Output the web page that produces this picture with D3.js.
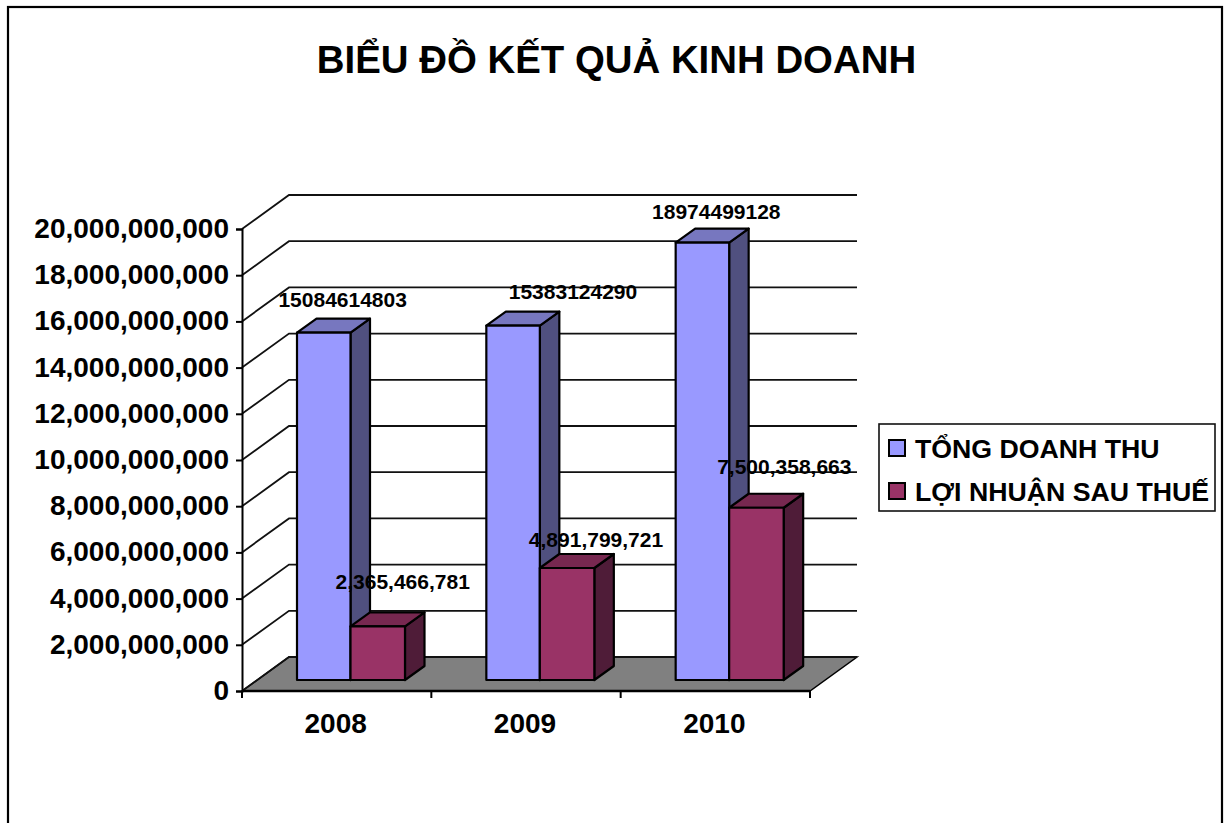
<!DOCTYPE html>
<html><head><meta charset="utf-8">
<script src="https://cdn.jsdelivr.net/npm/d3@7/dist/d3.min.js"></script>
<style>html,body{margin:0;padding:0;background:#fff}svg{display:block}
text{font-family:"Liberation Sans",Arial,sans-serif;font-weight:bold;fill:#000}</style>
</head><body><svg id="c" width="1224" height="823"></svg>
<script>
const categories = ["2008","2009","2010"];
const tongDoanhThu = [15084614803,15383124290,18974499128];
const loiNhuan = [2365466781,4891799721,7500358663];
const seriesNames = ["TỔNG DOANH THU","LỢI NHUẬN SAU THUẾ"];
const yTicks = [0,2e9,4e9,6e9,8e9,10e9,12e9,14e9,16e9,18e9,20e9];
const titleText = "BIỂU ĐỒ KẾT QUẢ KINH DOANH";
const colors = [{front:"#9999ff",top:"#7777bf",side:"#50507f"},{front:"#993366",top:"#772850",side:"#4f1c38"}];
const labelOffsets = [[[6,25],[6,36]],[[47,26],[10,20]],[[1,23],[9,33]]];

const svg = d3.select("#c");
const y = d3.scaleLinear().domain([0,20e9]).range([691,229]);
const x = d3.scaleBand().domain(categories).range([242,810]);
const depth = {x:47,y:-34};
const barShift = {x:15,y:-11};
const barDepth = {x:19.5,y:-14};

svg.append("rect").attr("x",8).attr("y",7).attr("width",1214).attr("height",840).attr("fill","#fff").attr("stroke","#000").attr("stroke-width",2.2);

svg.append("text").attr("x",616.5).attr("y",73).attr("text-anchor","middle").style("font-size","38.4px").text(titleText);

const floor = [[242,y(0)],[242+depth.x,y(0)+depth.y],[810+depth.x,y(0)+depth.y],[810,y(0)]];
svg.append("path").attr("d",d3.line()(floor)+"Z").attr("fill","#808080").attr("stroke","#000").attr("stroke-width",1.5);

const grid = svg.append("g").attr("fill","none").attr("stroke","#111").attr("stroke-width",1.8);
grid.selectAll("path").data(yTicks).join("path").attr("d",d=>d3.line()([[242,y(d)],[242+depth.x,y(d)+depth.y],[810+depth.x,y(d)+depth.y]]));

function bar(g,x0,w,v,c){
  const b = y(0)+barShift.y, t = y(v)+barShift.y+1, x1=x0+w, dx=barDepth.x, dy=barDepth.y;
  const p = d3.line();
  const s = g.append("g").attr("stroke","#000").attr("stroke-width",2.2).attr("stroke-linejoin","round");
  s.append("path").attr("d",p([[x1,t],[x1+dx,t+dy],[x1+dx,b+dy],[x1,b]])+"Z").attr("fill",c.side);
  s.append("path").attr("d",p([[x0,t],[x0+dx,t+dy],[x1+dx,t+dy],[x1,t]])+"Z").attr("fill",c.top);
  s.append("path").attr("d",p([[x0,t],[x1,t],[x1,b],[x0,b]])+"Z").attr("fill",c.front);
}
const barW = 53.5;
const bars = svg.append("g");
categories.forEach((cat,i)=>{
  const x0 = x(cat)+55;
  bar(bars,x0,barW,tongDoanhThu[i],colors[0]);
  bar(bars,x0+barW,barW+1,loiNhuan[i],colors[1]);
});

const yAxis = d3.axisLeft(y).tickValues(yTicks).tickFormat(d3.format(",")).tickSize(6).tickPadding(5);
const gy = svg.append("g").attr("transform","translate(242,0)").call(yAxis);
gy.selectAll("path,line").attr("stroke","#000").attr("stroke-width",2);
gy.selectAll("text").style("font-size","28px").attr("x",-13).attr("y",-1.5).attr("dy","0.36em").attr("fill","#000");
const gx = svg.append("g").attr("transform","translate(0,691)");
gx.append("line").attr("x1",242).attr("x2",810).attr("stroke","#000").attr("stroke-width",2.4);
const xEdges = categories.map(c=>x(c)).concat([x.range()[1]]);
gx.selectAll("line.t").data(xEdges).join("line").attr("class","t").attr("x1",d=>d).attr("x2",d=>d).attr("y2",7).attr("stroke","#000").attr("stroke-width",2);
gx.selectAll("text").data(categories).join("text").attr("x",d=>x(d)+x.bandwidth()/2-1).attr("y",42).attr("text-anchor","middle").style("font-size","28px").text(d=>d);

const labels = svg.append("g").style("font-size","21px").attr("text-anchor","middle");
const fmt = d3.format(",");
categories.forEach((cat,i)=>{
  const c = x(cat)+x.bandwidth()/2;
  labels.append("text").attr("x",c+labelOffsets[i][0][0]).attr("y",y(tongDoanhThu[i])+barShift.y-labelOffsets[i][0][1]).text(tongDoanhThu[i]);
  labels.append("text").attr("x",c+labelOffsets[i][1][0]+60).attr("y",y(loiNhuan[i])+barShift.y-labelOffsets[i][1][1]).text(fmt(loiNhuan[i]));
});

const lg = svg.append("g").attr("transform","translate(879,424)");
lg.append("rect").attr("width",336).attr("height",87).attr("fill","#fff").attr("stroke","#111").attr("stroke-width",1.6);
seriesNames.forEach((n,i)=>{
  lg.append("rect").attr("x",10).attr("y",16+i*43).attr("width",16).attr("height",16).attr("fill",colors[i].front).attr("stroke","#000").attr("stroke-width",2);
  lg.append("text").attr("x",36).attr("y",34+i*43).style("font-size","26.7px").text(n);
});
</script></body></html>
